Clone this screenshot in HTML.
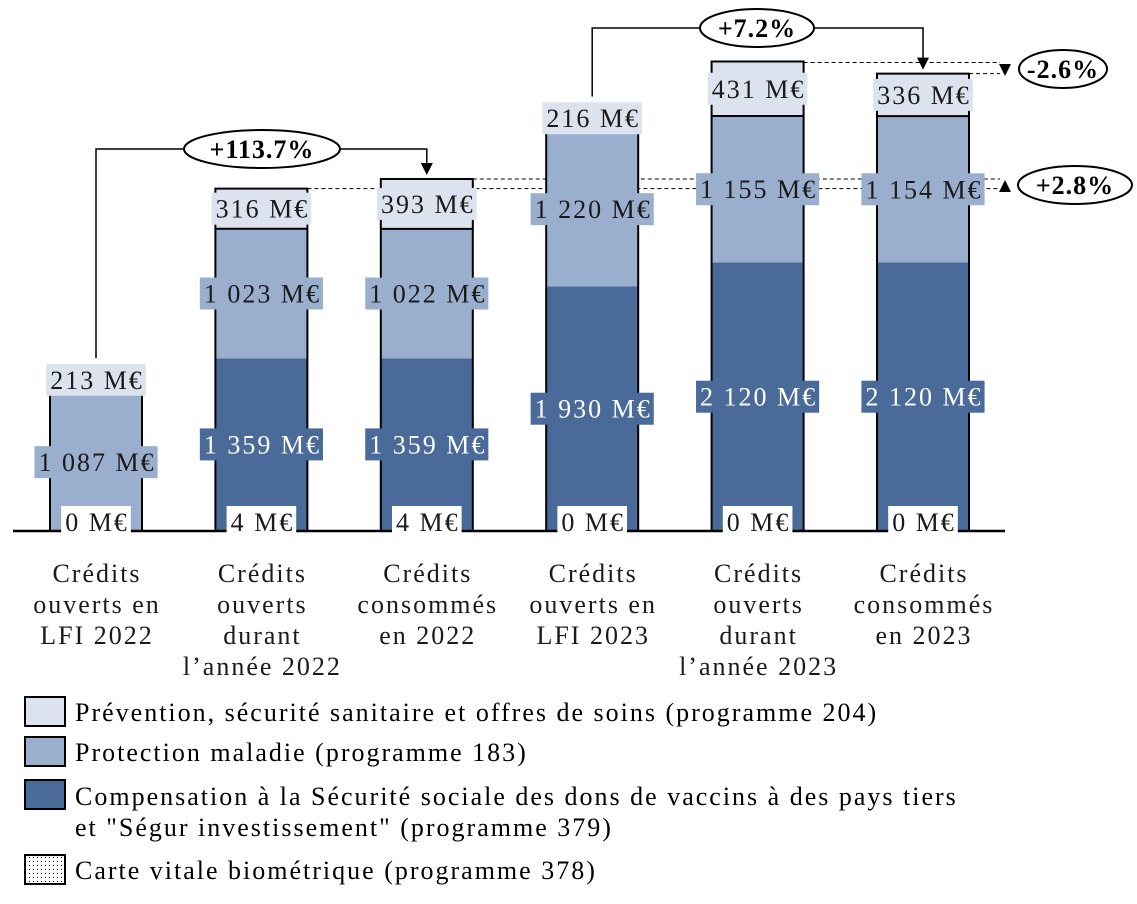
<!DOCTYPE html>
<html><head><meta charset="utf-8"><style>
html,body{margin:0;padding:0;background:#fff;}
svg{display:block;font-family:"Liberation Serif",serif;}
text{letter-spacing:2px;}
</style></head><body>
<svg id="chart" width="1137" height="904" viewBox="0 0 1137 904" xmlns="http://www.w3.org/2000/svg">
<g id="bg"></g><g id="bars"></g><g id="labels"></g><g id="annot"></g>
<g id="legend">
  <g><rect x="25" y="697" width="40" height="29" fill="#dde3ee" stroke="#000" stroke-width="2"/><text x="75" y="721" font-size="26">Prévention, sécurité sanitaire et offres de soins (programme 204)</text></g>
  <g><rect x="25" y="737" width="40" height="29" fill="#9aafcd" stroke="#000" stroke-width="2"/><text x="75" y="761" font-size="26">Protection maladie (programme 183)</text></g>
  <g><rect x="25" y="780" width="40" height="29" fill="#4a6a9a" stroke="#000" stroke-width="2"/><text x="75" y="805" font-size="26">Compensation à la Sécurité sociale des dons de vaccins à des pays tiers</text><text x="75" y="836" font-size="26">et "Ségur investissement" (programme 379)</text></g>
  <defs><pattern id="dots" width="4" height="4" patternUnits="userSpaceOnUse"><rect x="1" y="1" width="1" height="1" fill="#000"/></pattern></defs>
  <g><rect x="25" y="855" width="40" height="29" fill="url(#dots)" stroke="#000" stroke-width="2"/><text x="75" y="879" font-size="26">Carte vitale biométrique (programme 378)</text></g>
</g>
</svg>
<script>
const categories=[["Crédits","ouverts en","LFI 2022"],["Crédits","ouverts","durant","l’année 2022"],["Crédits","consommés","en 2022"],["Crédits","ouverts en","LFI 2023"],["Crédits","ouverts","durant","l’année 2023"],["Crédits","consommés","en 2023"]];
const p378=[0,4,4,0,0,0];
const p379=[0,1359,1359,1930,2120,2120];
const p183=[1087,1023,1022,1220,1155,1154];
const p204=[213,316,393,216,431,336];
const NS="http://www.w3.org/2000/svg";
const base=531, scale=0.1267, x0=96, step=165.4, bw=92;
const y=v=>base-v*scale;
const xc=i=>x0+i*step;
function mk(t,a,p){const e=document.createElementNS(NS,t);for(const k in a)e.setAttribute(k,a[k]);p.appendChild(e);return e;}
const bars=document.getElementById('bars'),labels=document.getElementById('labels'),bg=document.getElementById('bg'),an=document.getElementById('annot');
function fmt(v){return String(v).replace(/\B(?=(\d{3})+(?!\d))/g,' ')+' M€';}
function label(txt,cx,cy,fill,col,name){
  const g=mk('g',{},labels);
  
  
  const r=mk('rect',{x:cx,y:cy-16,width:10,height:32,fill:fill},g);
  const t=mk('text',{x:cx+1,y:cy+9,'text-anchor':'middle','font-size':26,fill:col},g);t.textContent=txt;
  const w=t.getComputedTextLength()+6;
  r.setAttribute('x',cx-w/2);r.setAttribute('width',w);
}
const segs=[[p379,'#4a6a9a','#fff','#4a6a9a','p379'],[p183,'#9aafcd','#1a1a1a','#9aafcd','p183'],[p204,'#dde3ee','#1a1a1a','#dde3ee','p204']];
categories.forEach((c,i)=>{
  const g=mk('g',{},bars);
  
  
  let cum=p378[i];
  const L=xc(i)-bw/2;
  segs.forEach(([arr,fill,tc,lbg,nm])=>{
    const v=arr[i]; const y1=y(cum), y2=y(cum+v);
    if(v>0){
      const r=mk('rect',{x:L,y:y2,width:bw,height:y1-y2,fill:fill},g);
      
      
      label(fmt(v),xc(i),(y1+y2)/2,lbg,tc,'value-label-'+nm+'-'+(i+1));
    }
    if(nm==='p204') mk('line',{x1:L,x2:L+bw,y1:y(cum),y2:y(cum),stroke:'#000','stroke-width':2},g);
    cum+=v;
  });
  const top=y(cum);
  mk('path',{d:`M${L},${base} V${top} H${L+bw} V${base}`,fill:'none',stroke:'#000','stroke-width':2},g);
  label(fmt(p378[i]),xc(i),base-9,'#fff','#1a1a1a','value-label-p378-'+(i+1));
  const t=mk('text',{x:xc(i),'text-anchor':'middle','font-size':26,fill:'#1a1a1a'},labels);
  
  
  c.forEach((ln,k)=>{const s=mk('tspan',{x:xc(i)+1,y:582+k*31},t);s.textContent=ln;});
});
mk('line',{x1:13,x2:1005,y1:base,y2:base,stroke:'#000','stroke-width':2.5},bars);
const tot=i=>y(p378[i]+p379[i]+p183[i]+p204[i]);
function dash(x1,yy){mk('line',{x1:x1,x2:1000,y1:yy,y2:yy,stroke:'#000','stroke-width':1,'stroke-dasharray':'4,3'},bg);}
dash(xc(1)+bw/2,tot(1));dash(xc(2)+bw/2,tot(2));
dash(xc(4)+bw/2,tot(4)+1);dash(xc(5)+bw/2,tot(5));
function bubble(txt,cx,cy,rx,name){
  const g=mk('g',{},an);
  
  
  mk('ellipse',{cx:cx,cy:cy,rx:rx,ry:19,fill:'#fff',stroke:'#000','stroke-width':2},g);
  const t=mk('text',{x:cx,y:cy+9,'text-anchor':'middle','font-size':26,'font-weight':'bold',style:'letter-spacing:1px'},g);t.textContent=txt;
}
function conn(a,b,yy){
  mk('path',{d:`M${xc(a)},${tot(a)-8} V${yy} H${xc(b)} V${tot(b)-14}`,fill:'none',stroke:'#000','stroke-width':1.5},an);
  mk('path',{d:`M${xc(b)-6},${tot(b)-16} L${xc(b)+6},${tot(b)-16} L${xc(b)},${tot(b)-4}Z`,fill:'#000'},an);
}
conn(0,2,149);
bubble('+113.7%',262,149,78,'change-badge-2022');
conn(3,5,28);
bubble('+7.2%',757,28,57,'change-badge-2023');
mk('path',{d:'M999,64 L1011,64 L1005,76Z',fill:'#000'},an);
bubble('-2.6%',1063,69,44,'change-badge-p204');
mk('path',{d:'M999,192 L1011,192 L1005,180Z',fill:'#000'},an);
bubble('+2.8%',1075,185,57,'change-badge-p183');
</script>
</body></html>
